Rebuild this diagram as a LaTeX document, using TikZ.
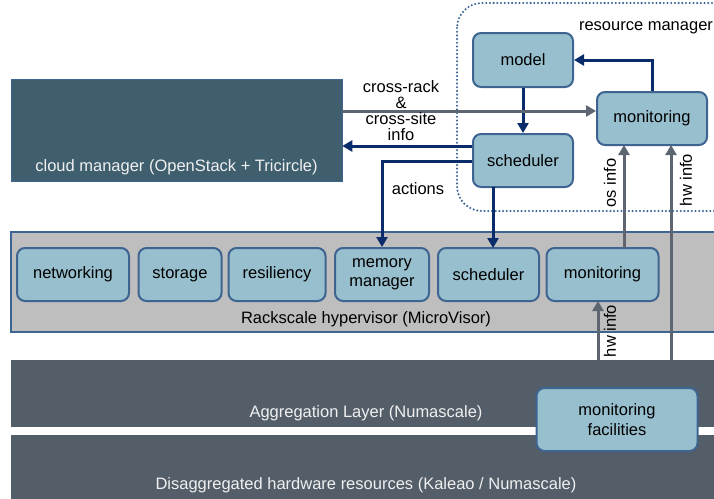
\documentclass[tikz,border=0pt]{standalone}
\usepackage{fontspec}
\setmainfont{Liberation Sans}
\usetikzlibrary{arrows.meta}
\definecolor{cloudfill}{HTML}{3F5E6E}
\definecolor{boxfill}{HTML}{97BFCD}
\definecolor{boxline}{HTML}{3E6491}
\definecolor{navy}{HTML}{0B2C6B}
\definecolor{arrgray}{HTML}{5D6670}
\definecolor{hyperfill}{HTML}{BEBEBE}
\definecolor{darkband}{HTML}{545E69}
\definecolor{dotblue}{HTML}{3A6296}
\begin{document}
\begin{tikzpicture}[x=1pt,y=-1pt,
  every node/.style={font=\fontsize{16.5}{16}\selectfont, inner sep=0pt},
  box/.style={draw=boxline, line width=2pt, fill=boxfill, rounded corners=8pt, align=center, text=black},
  band/.style={fill=darkband, draw=none},
  navyarrow/.style={draw=navy, line width=3pt, -{Triangle[length=10pt,width=11pt]}},
  grayarrow/.style={draw=arrgray, line width=3pt, -{Triangle[length=10pt,width=11pt]}},
  lighttext/.style={text=white!94!black}
]
\useasboundingbox (0,0) rectangle (714,498);

% resource manager region
\draw[dotblue, line width=2.3pt, line cap=round, dash pattern=on 0pt off 3.7pt, rounded corners=25pt] (457,3) rectangle (740,211);
\node[anchor=center] (rmlabel) at (646,28) {resource manager};

% cloud manager
\node[fill=cloudfill, draw=boxline, line width=0.6pt, minimum width=331pt, minimum height=102pt] (cloud) at (176.5,130.5) {};
\node[lighttext] (cloudlabel) at (176.5,167) {cloud manager (OpenStack + Tricircle)};

% hypervisor band
\node[fill=hyperfill, draw=boxline, line width=1.5pt, minimum width=712pt, minimum height=100pt] (hyper) at (367,282) {};
\node (hyperlabel) at (366,319) {Rackscale hypervisor (MicroVisor)};

% lower bands
\node[band, minimum width=712pt, minimum height=67pt] (agg) at (367,393.5) {};
\node[lighttext] (agglabel) at (366,413) {Aggregation Layer (Numascale)};
\node[band, minimum width=712pt, minimum height=66pt] (dis) at (367,468) {};
\node[lighttext] (dislabel) at (366,485) {Disaggregated hardware resources (Kaleao / Numascale)};

% resource manager boxes
\node[box, minimum width=100pt, minimum height=54pt] (model) at (523,60) {model};
\node[box, minimum width=110pt, minimum height=53pt] (montop) at (652,118.5) {monitoring};
\node[box, minimum width=100pt, minimum height=53pt] (schedtop) at (523,160.5) {scheduler};

% hypervisor boxes
\node[box, minimum width=112pt, minimum height=53pt] (net) at (73,274.5) {networking};
\node[box, minimum width=83pt, minimum height=53pt] (stor) at (180,274.5) {storage};
\node[box, minimum width=97pt, minimum height=53pt] (res) at (277,274.5) {resiliency};
\node[box, minimum width=94pt, minimum height=53pt] (mem) at (382,274.5) {memory\\[3pt]manager};
\node[box, minimum width=101pt, minimum height=53pt] (sched) at (488.5,274.5) {scheduler};
\node[box, minimum width=112pt, minimum height=53pt] (mon) at (602.5,274.5) {monitoring};

% monitoring facilities
\node[box, minimum width=161pt, minimum height=63pt] (fac) at (617,419.5) {monitoring\\[4pt]facilities};

% arrows in resource manager
\draw[navyarrow] (model.south) -- (schedtop.north);
\draw[navyarrow] (montop.north) |- (model.east);
\draw[grayarrow] (cloud.east |- 0,111) -- (montop.west |- 0,111);
\draw[navyarrow] (schedtop.west |- 0,146) -- (cloud.east |- 0,146);
\draw[navyarrow] (schedtop.west |- 0,161) -| (mem.north);
\draw[navyarrow] (493,187) -- (493,248);
\node[align=center] (crosslabel) at (401,111) {cross-rack\\\&\\cross-site\\info};
\node (actlabel) at (418,189) {actions};

% monitoring info arrows
\draw[grayarrow] (624,248) -- (624,145);
\draw[grayarrow] (671,360) -- (671,145);
\draw[grayarrow] (598,360) -- (598,301);
\node[rotate=90] (osinfo) at (610,183) {os info};
\node[rotate=90] (hwinfo) at (686,180) {hw info};
\node[rotate=90] (hwinfo2) at (610,331) {hw info};
\end{tikzpicture}
\end{document}
